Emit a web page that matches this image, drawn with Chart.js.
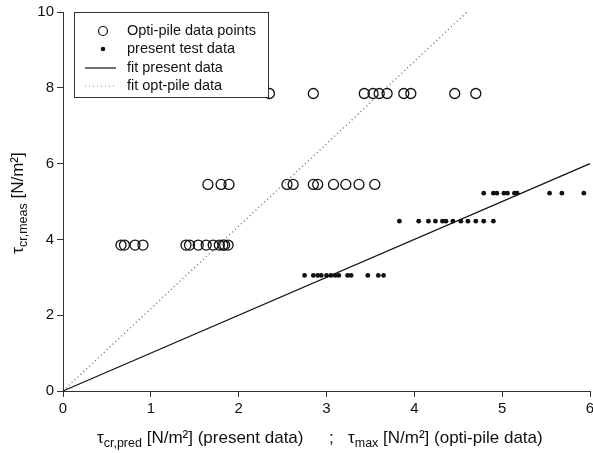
<!DOCTYPE html>
<html>
<head>
<meta charset="utf-8">
<script src="https://cdn.jsdelivr.net/npm/chart.js@4.4.0/dist/chart.umd.min.js"></script>
<style>
  html, body { margin: 0; padding: 0; background: #fff; }
  #chart { display: block; }
</style>
</head>
<body>
<canvas id="chart" width="593" height="453"></canvas>
<script>
const FONT = "'Liberation Sans', Arial, sans-serif";
const INK = '#111';

// opti-pile data points (open circles), three rows
const optiX = [0.66, 0.70, 0.82, 0.91, 1.40, 1.44, 1.54, 1.63, 1.71, 1.78, 1.82, 1.84, 1.88,
               1.65, 1.80, 1.89, 2.55, 2.62, 2.85, 2.90, 3.08, 3.22, 3.37, 3.55,
               2.35, 2.85, 3.43, 3.53, 3.60, 3.69, 3.88, 3.96, 4.46, 4.70];
const optiY = [3.85, 3.85, 3.85, 3.85, 3.85, 3.85, 3.85, 3.85, 3.85, 3.85, 3.85, 3.85, 3.85,
               5.45, 5.45, 5.45, 5.45, 5.45, 5.45, 5.45, 5.45, 5.45, 5.45, 5.45,
               7.85, 7.85, 7.85, 7.85, 7.85, 7.85, 7.85, 7.85, 7.85, 7.85];

// present test data (small dots)
const presentX = [2.75, 2.85, 2.90, 2.94, 3.00, 3.05, 3.10, 3.14, 3.24, 3.28, 3.47, 3.59, 3.65,
                  3.83, 4.05, 4.16, 4.24, 4.32, 4.36, 4.44, 4.53, 4.61, 4.70, 4.79, 4.90,
                  4.79, 4.90, 4.94, 5.02, 5.06, 5.14, 5.17, 5.54, 5.68, 5.93];
const presentY = [3.05, 3.05, 3.05, 3.05, 3.05, 3.05, 3.05, 3.05, 3.05, 3.05, 3.05, 3.05, 3.05,
                  4.48, 4.48, 4.48, 4.48, 4.48, 4.48, 4.48, 4.48, 4.48, 4.48, 4.48, 4.48,
                  5.22, 5.22, 5.22, 5.22, 5.22, 5.22, 5.22, 5.22, 5.22, 5.22];

// fit lines (end points)
const fitPresentX = [0, 6];
const fitPresentY = [0, 6];
const fitOptiX = [0, 4.6];
const fitOptiY = [0, 10];

const xTicks = [0, 1, 2, 3, 4, 5, 6];
const yTicks = [0, 2, 4, 6, 8, 10];

const legendItems = ['Opti-pile data points', 'present test data', 'fit present data', 'fit opt-pile data'];

function pts(xs, ys) {
    return xs.map((x, i) => ({ x: x, y: ys[i] }));
}

// draws text with a subscript part, returns the new x
function drawParts(ctx, parts, x, y) {
    parts.forEach(p => {
        ctx.font = p.size + 'px ' + FONT;
        ctx.fillText(p.t, x, y + (p.dy || 0));
        x += ctx.measureText(p.t).width;
    });
    return x;
}
function partsWidth(ctx, parts) {
    let w = 0;
    parts.forEach(p => {
        ctx.font = p.size + 'px ' + FONT;
        w += ctx.measureText(p.t).width;
    });
    return w;
}

const titlesAndLegend = {
    id: 'titlesAndLegend',
    afterDraw(chart) {
        const ctx = chart.ctx;
        ctx.save();
        ctx.fillStyle = INK;
        ctx.textBaseline = 'alphabetic';
        ctx.textAlign = 'left';

        // x title
        const left = [{ t: 'τ', size: 17 }, { t: 'cr,pred', size: 12.5, dy: 4 }, { t: ' [N/m²] (present data)', size: 17 }];
        const right = [{ t: 'τ', size: 17 }, { t: 'max', size: 12.5, dy: 4 }, { t: ' [N/m²] (opti-pile data)', size: 17 }];
        drawParts(ctx, left, 97, 443);
        ctx.font = '17px ' + FONT;
        ctx.fillText(';', 329, 443);
        drawParts(ctx, right, 348, 443);

        // y title (rotated)
        const yParts = [{ t: 'τ', size: 17 }, { t: 'cr,meas', size: 12.5, dy: 4 }, { t: ' [N/m²]', size: 17 }];
        const w = partsWidth(ctx, yParts);
        ctx.translate(23, 203);
        ctx.rotate(-Math.PI / 2);
        drawParts(ctx, yParts, -w / 2, 0);
        ctx.restore();

        // legend box inside the plot
        ctx.save();
        const bx = 74.5, by = 12.5, bw = 194, bh = 85;
        ctx.fillStyle = '#fff';
        ctx.fillRect(bx, by, bw, bh);
        ctx.strokeStyle = '#333';
        ctx.lineWidth = 1;
        ctx.strokeRect(bx, by, bw, bh);

        const rows = [31, 49, 68, 86];
        ctx.font = '14.5px ' + FONT;
        ctx.fillStyle = INK;
        ctx.textBaseline = 'middle';
        legendItems.forEach((txt, i) => {
            ctx.fillText(txt, 127, rows[i]);
        });
        // markers
        ctx.strokeStyle = INK;
        ctx.lineWidth = 1.2;
        ctx.beginPath();
        ctx.arc(103, rows[0], 4.5, 0, Math.PI * 2);
        ctx.stroke();
        ctx.fillStyle = INK;
        ctx.beginPath();
        ctx.arc(103, rows[1], 2.3, 0, Math.PI * 2);
        ctx.fill();
        ctx.beginPath();
        ctx.moveTo(85, rows[2]);
        ctx.lineTo(116, rows[2]);
        ctx.stroke();
        ctx.strokeStyle = '#888';
        ctx.setLineDash([1, 3]);
        ctx.beginPath();
        ctx.moveTo(85, rows[3]);
        ctx.lineTo(116, rows[3]);
        ctx.stroke();
        ctx.restore();
    }
};

const axisCommon = {
    type: 'linear',
    grid: { display: true, drawOnChartArea: false, drawTicks: true, tickLength: 6, color: '#333', lineWidth: 1 },
    border: { display: true, color: '#333', width: 1 }
};

new Chart(document.getElementById('chart'), {
    data: {
        datasets: [
            {
                type: 'line',
                data: pts(fitPresentX, fitPresentY),
                borderColor: INK,
                borderWidth: 1.2,
                pointRadius: 0,
                clip: false
            },
            {
                type: 'line',
                data: pts(fitOptiX, fitOptiY),
                borderColor: '#777',
                borderWidth: 1.5,
                borderDash: [1, 3],
                pointRadius: 0,
                clip: false
            },
            {
                type: 'scatter',
                data: pts(optiX, optiY),
                pointStyle: 'circle',
                pointRadius: 5,
                pointBorderWidth: 1.3,
                borderColor: INK,
                backgroundColor: 'rgba(0,0,0,0)'
            },
            {
                type: 'scatter',
                data: pts(presentX, presentY),
                pointStyle: 'circle',
                pointRadius: 2.4,
                pointBorderWidth: 0,
                borderColor: INK,
                backgroundColor: INK
            }
        ]
    },
    options: {
        responsive: false,
        animation: false,
        devicePixelRatio: 1,
        layout: { autoPadding: false, padding: { top: 12, right: 3, left: 0, bottom: 0 } },
        plugins: { legend: { display: false }, tooltip: { enabled: false } },
        scales: {
            x: Object.assign({}, axisCommon, {
                min: 0, max: 6,
                afterBuildTicks(s) { s.ticks = xTicks.map(v => ({ value: v })); },
                ticks: { color: INK, font: { family: FONT, size: 15 }, padding: 3, maxRotation: 0 },
                afterFit(s) { s.height = 62; s.paddingLeft = 0; s.paddingRight = 0; }
            }),
            y: Object.assign({}, axisCommon, {
                min: 0, max: 10,
                afterBuildTicks(s) { s.ticks = yTicks.map(v => ({ value: v })); },
                ticks: { color: INK, font: { family: FONT, size: 15 }, padding: 3 },
                afterFit(s) { s.width = 63; s.paddingTop = 0; s.paddingBottom = 0; }
            })
        }
    },
    plugins: [titlesAndLegend]
});
</script>
</body>
</html>
